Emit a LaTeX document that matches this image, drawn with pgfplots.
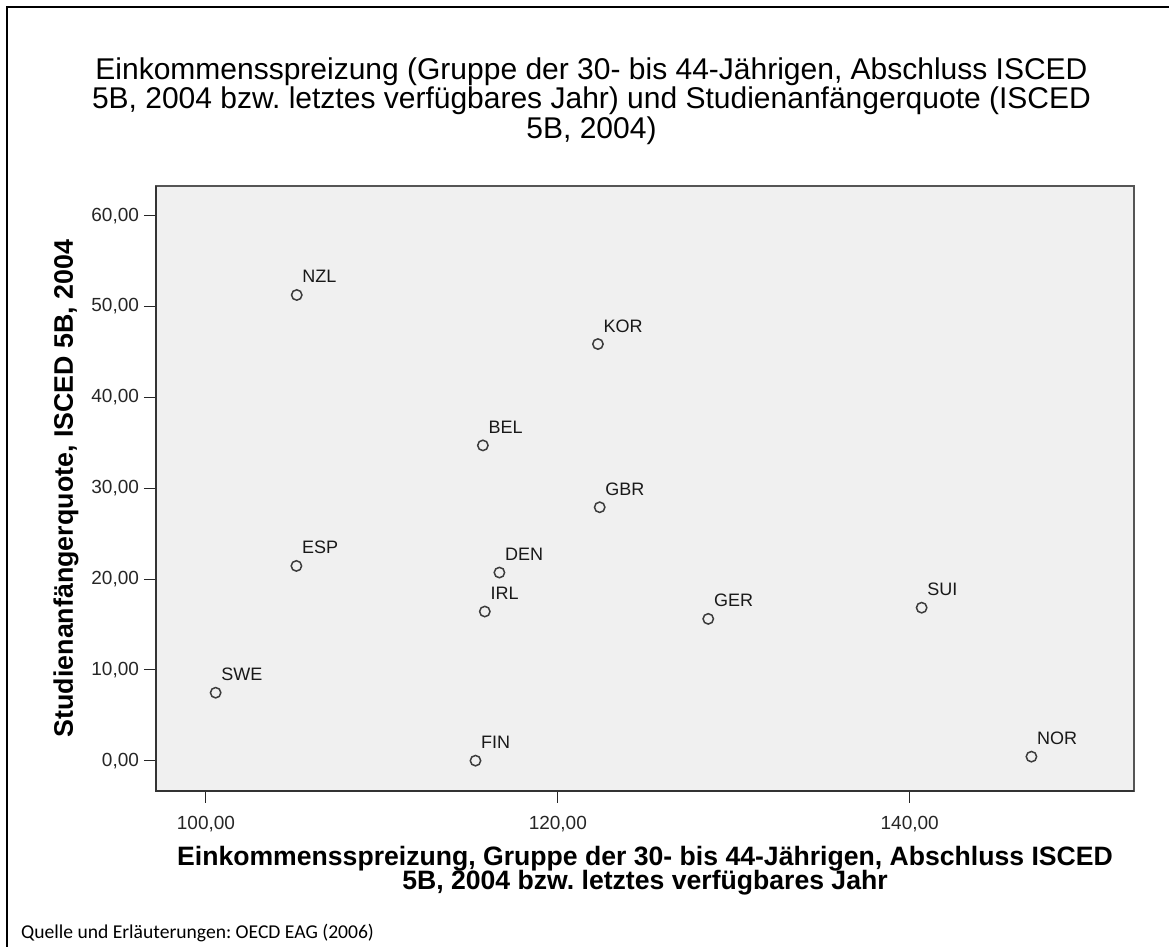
\documentclass[border=0pt]{standalone}
\usepackage{fontspec}
\setmainfont{Liberation Sans}
\newfontfamily\quellefont{Carlito}
\usepackage{pgfplots}
\pgfplotsset{compat=1.18}
\usepackage{pgfplotstable}
\definecolor{plotbg}{HTML}{F0F0F0}
\definecolor{boxgray}{HTML}{555555}
\definecolor{markgray}{HTML}{3C3C3C}
\frenchspacing

\pgfplotstableread{
x y label
105.16 51.27 NZL
122.28 45.87 KOR
115.74 34.71 BEL
122.38 27.90 GBR
105.14 21.44 ESP
116.68 20.71 DEN
115.85 16.42 IRL
128.55 15.61 GER
140.68 16.84 SUI
100.55 7.48 SWE
115.32 0.00 FIN
146.92 0.44 NOR
}\datatable

\begin{document}
\frenchspacing
\begin{tikzpicture}[x=1pt,y=1pt]
\useasboundingbox (0,0) rectangle (584.5,473.5);
\draw[line width=1pt] (3.5,0) -- (3.5,470) -- (584.5,470);
\node[anchor=base west, inner sep=0pt, font=\quellefont\fontsize{9.8}{9.8}\selectfont] at (10.35,4) {Quelle und Erläuterungen: OECD EAG (2006)};
\begin{axis}[
  at={(78pt,78pt)}, anchor=south west,
  scale only axis, width=489pt, height=302.5pt,
  xmin=97.16, xmax=152.75, ymin=-3.34, ymax=63.27,
  xtick={100,120,140}, ytick={0,10,...,60},
  minor tick num=0,
  tick pos=left,
  tick align=outside,
  major tick length=6pt,
  tick style={black!85, line width=0.5pt},
  axis line style={boxgray, line width=0.6pt},
  axis background/.style={fill=plotbg},
  clip=false,
  /pgf/number format/.cd, fixed, fixed zerofill, precision=2, use comma, assume math mode=true,
  /pgfplots/.cd,
  xticklabel style={font=\fontsize{9.5}{9.5}\selectfont, text=black!85, yshift=-3pt},
  yticklabel style={font=\fontsize{9.5}{9.5}\selectfont, text=black!85, xshift=1pt},
  scaled ticks=false,
  title={Einkommensspreizung (Gruppe der 30- bis 44-Jährigen, Abschluss ISCED\\5B, 2004 bzw. letztes verfügbares Jahr) und Studienanfängerquote (ISCED\\5B, 2004)},
  title style={at={(axis description cs:0.5,1)}, anchor=north, xshift=-26.75pt, yshift=58.45pt, inner sep=0pt, align=center, font={\fontsize{15}{14.75}\selectfont\frenchspacing\lineskiplimit=-20pt}},
  xlabel={Einkommensspreizung, Gruppe der 30- bis 44-Jährigen, Abschluss ISCED\\5B, 2004 bzw. letztes verfügbares Jahr},
  xlabel style={at={(axis description cs:0.5,0)}, anchor=north, yshift=-27.5pt, inner sep=0pt, align=center, font={\fontsize{13.3}{12}\selectfont\bfseries\frenchspacing\lineskiplimit=-20pt}},
  ylabel={Studienanfängerquote, ISCED 5B, 2004},
  ylabel style={at={(axis description cs:-0.0849,0.5)}, anchor=base, inner sep=0pt, font={\fontsize{13.4}{13.4}\selectfont\bfseries}},
]
\addplot[only marks, mark=o, mark size=2.6pt, mark options={markgray, line width=0.75pt},
  point meta=explicit symbolic,
  nodes near coords,
  nodes near coords style={anchor=base west, inner sep=0pt, xshift=2.5pt, yshift=6pt, font=\fontsize{9}{9}\selectfont, text=black!90}]
  table[x=x, y=y, meta=label] {\datatable};
\draw[line width=1pt, black!80] (rel axis cs:0,1) -- (rel axis cs:0,0) -- (rel axis cs:1,0);
\end{axis}
\end{tikzpicture}
\end{document}
